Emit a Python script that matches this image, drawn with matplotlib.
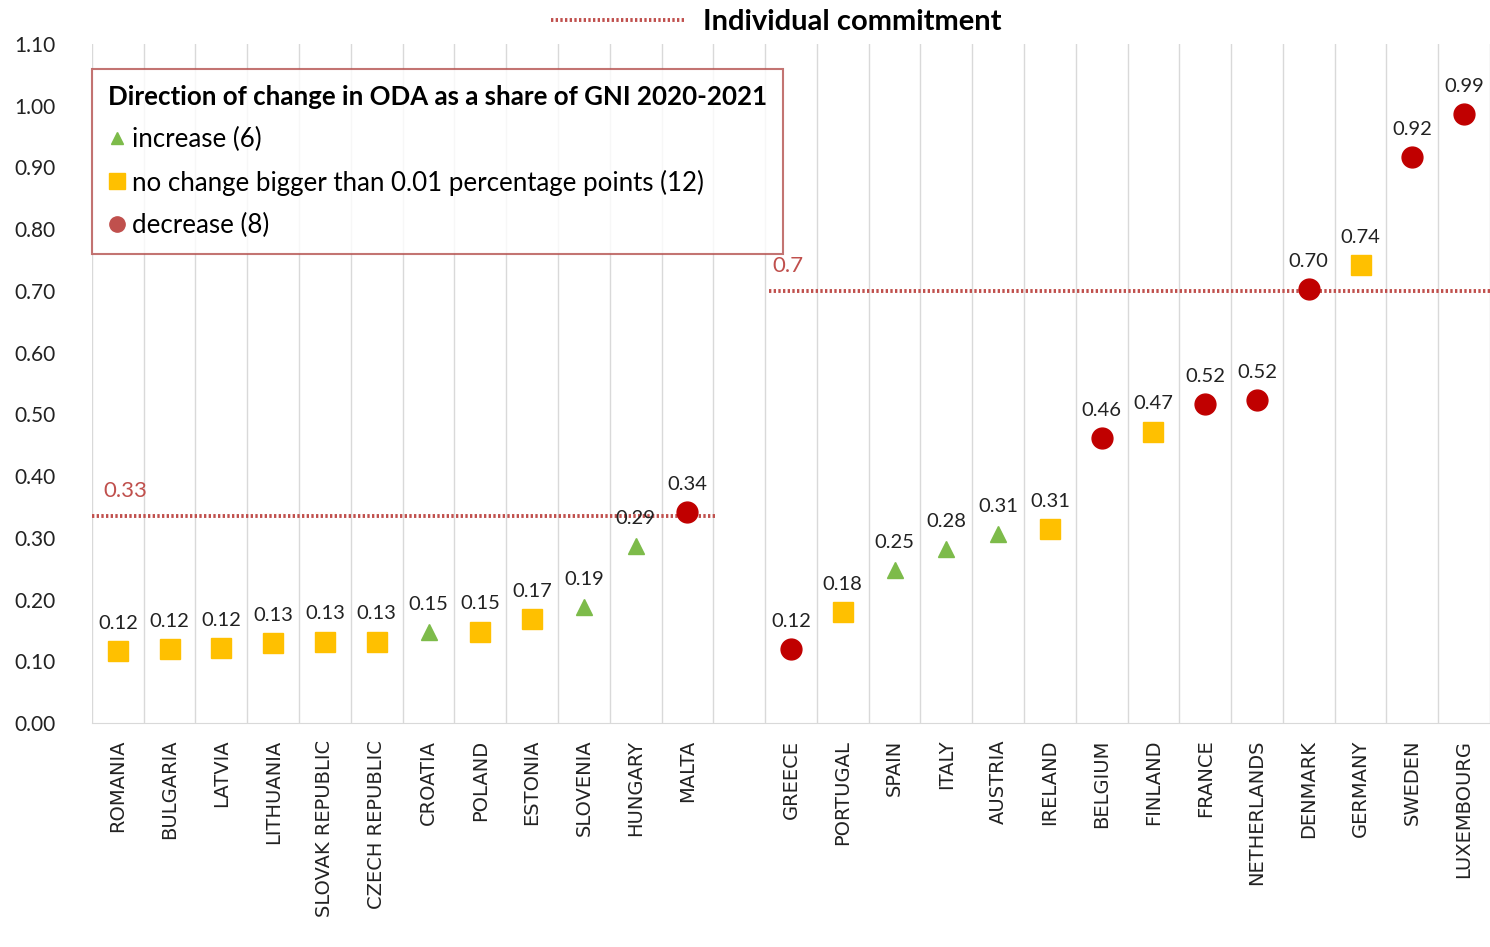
"""ODA as a share of GNI 2021, EU member states, with individual commitments."""

import matplotlib

matplotlib.use("Agg")
import matplotlib.pyplot as plt
from matplotlib.lines import Line2D

# group 1: member states with the 0.33 commitment
LOW_COUNTRIES = ["ROMANIA", "BULGARIA", "LATVIA", "LITHUANIA", "SLOVAK REPUBLIC",
                 "CZECH REPUBLIC", "CROATIA", "POLAND", "ESTONIA", "SLOVENIA",
                 "HUNGARY", "MALTA"]
LOW_VALUES = [0.116, 0.12, 0.121, 0.13, 0.132, 0.132, 0.147, 0.148, 0.168, 0.188, 0.287, 0.342]
LOW_CHANGE = ["same", "same", "same", "same", "same", "same", "up", "same", "same", "up",
              "up", "down"]

# group 2: member states with the 0.7 commitment
HIGH_COUNTRIES = ["GREECE", "PORTUGAL", "SPAIN", "ITALY", "AUSTRIA", "IRELAND", "BELGIUM",
                  "FINLAND", "FRANCE", "NETHERLANDS", "DENMARK", "GERMANY", "SWEDEN",
                  "LUXEMBOURG"]
HIGH_VALUES = [0.12, 0.18, 0.248, 0.282, 0.306, 0.314, 0.462, 0.472, 0.517, 0.523, 0.703,
               0.742, 0.917, 0.987]
HIGH_CHANGE = ["down", "same", "up", "up", "up", "same", "down", "same", "down", "down",
               "down", "same", "down", "down"]

COMMIT_LOW = 0.335
COMMIT_LOW_LABEL = "0.33"
COMMIT_HIGH = 0.70
COMMIT_HIGH_LABEL = "0.7"

Y_TICKS = [0.0, 0.1, 0.2, 0.3, 0.4, 0.5, 0.6, 0.7, 0.8, 0.9, 1.0, 1.1]

LEGEND_TITLE = "Direction of change in ODA as a share of GNI 2020-2021"
LEGEND_LABELS = {"up": "increase (6)",
                 "same": "no change bigger than 0.01 percentage points (12)",
                 "down": "decrease (8)"}

MARKERS = {"up": "^", "same": "s", "down": "o"}
COLORS = {"up": "#7DBB4A", "same": "#FFC000", "down": "#C00000"}
SIZES = {"up": 12, "same": 15, "down": 15}
LEGEND_COLORS = {"up": "#7DBB4A", "same": "#FFC000", "down": "#C0504D"}
LINE_COLOR = "#C0504D"
GRID_COLOR = "#D9D9D9"
FONT = "Lato"


def main() -> None:
    n_low = len(LOW_COUNTRIES)
    low_x = list(range(n_low))
    high_x = [n_low + 1 + i for i in range(len(HIGH_COUNTRIES))]
    n_slots = n_low + 1 + len(HIGH_COUNTRIES)

    fig = plt.figure(figsize=(14.9, 9.47), dpi=100)
    ax = fig.add_axes([0.0617, 0.2365, 0.9383, 0.7170])

    # category separators
    for k in range(n_slots + 1):
        ax.axvline(k - 0.5, color=GRID_COLOR, linewidth=1.0, zorder=0)

    commit_style = dict(color=LINE_COLOR, linewidth=2.8, linestyle=(0, (0.6, 0.6)), zorder=2)
    ax.hlines(COMMIT_LOW, low_x[0] - 0.5, low_x[-1] + 0.58, **commit_style)
    commit_line = ax.hlines(COMMIT_HIGH, high_x[0] - 0.42, n_slots - 0.5, **commit_style)
    ax.text(low_x[0] - 0.28, COMMIT_LOW + 0.025, COMMIT_LOW_LABEL, color=LINE_COLOR,
            fontsize=16, family=FONT, va="bottom", ha="left")
    ax.text(high_x[0] - 0.05, COMMIT_HIGH + 0.025, COMMIT_HIGH_LABEL, color=LINE_COLOR,
            fontsize=16, family=FONT, va="bottom", ha="center")

    xs = low_x + high_x
    values = LOW_VALUES + HIGH_VALUES
    changes = LOW_CHANGE + HIGH_CHANGE
    for x, v, c in zip(xs, values, changes):
        ax.plot([x], [v], marker=MARKERS[c], markersize=SIZES[c], color=COLORS[c],
                linestyle="none", zorder=3)
        ax.annotate(f"{v:.2f}", (x, v), xytext=(0, 20), textcoords="offset points",
                    ha="center", va="center", fontsize=14.5, family=FONT, color="#222222")

    ax.set_xlim(-0.5, n_slots - 0.5)
    ax.set_ylim(0, 1.1)
    ax.set_yticks(Y_TICKS, [f"{t:.2f}" for t in Y_TICKS])
    ax.set_xticks(xs, LOW_COUNTRIES + HIGH_COUNTRIES, rotation=90)
    ax.tick_params(axis="y", length=0, pad=26, labelsize=15)
    ax.tick_params(axis="x", length=0, pad=12, labelsize=14)
    for lbl in ax.get_yticklabels():
        lbl.set_family(FONT)
        lbl.set_color("#222222")
    for lbl in ax.get_xticklabels():
        lbl.set_family("DejaVu Sans")
        lbl.set_color("#222222")
    for side in ("top", "right", "left"):
        ax.spines[side].set_visible(False)
    ax.spines["bottom"].set_color(GRID_COLOR)

    handles = [Line2D([], [], marker=MARKERS[k], color=LEGEND_COLORS[k], linestyle="none",
                      markersize=SIZES[k] - 4) for k in ("up", "same", "down")]
    leg = ax.legend(handles, [LEGEND_LABELS[k] for k in ("up", "same", "down")],
                    loc="upper left", bbox_to_anchor=(0.0, 0.963), borderaxespad=0,
                    title=LEGEND_TITLE, alignment="left", frameon=True, fancybox=False,
                    handlelength=0.7, handletextpad=0.25, labelspacing=0.68, borderpad=0.62,
                    prop={"family": FONT, "size": 18.6},
                    title_fontproperties={"family": FONT, "size": 18.6, "weight": "bold"})
    leg.get_frame().set_edgecolor("#B5514F")
    leg.get_frame().set_linewidth(1.5)

    fig.legend([commit_line], ["Individual commitment"], loc="upper center",
               bbox_to_anchor=(0.521, 1.018), frameon=False, handlelength=4.6,
               handletextpad=0.6,
               prop={"family": FONT, "size": 21, "weight": "bold"})

    fig.savefig("out.png", dpi=100)
    plt.close(fig)


if __name__ == "__main__":
    main()
